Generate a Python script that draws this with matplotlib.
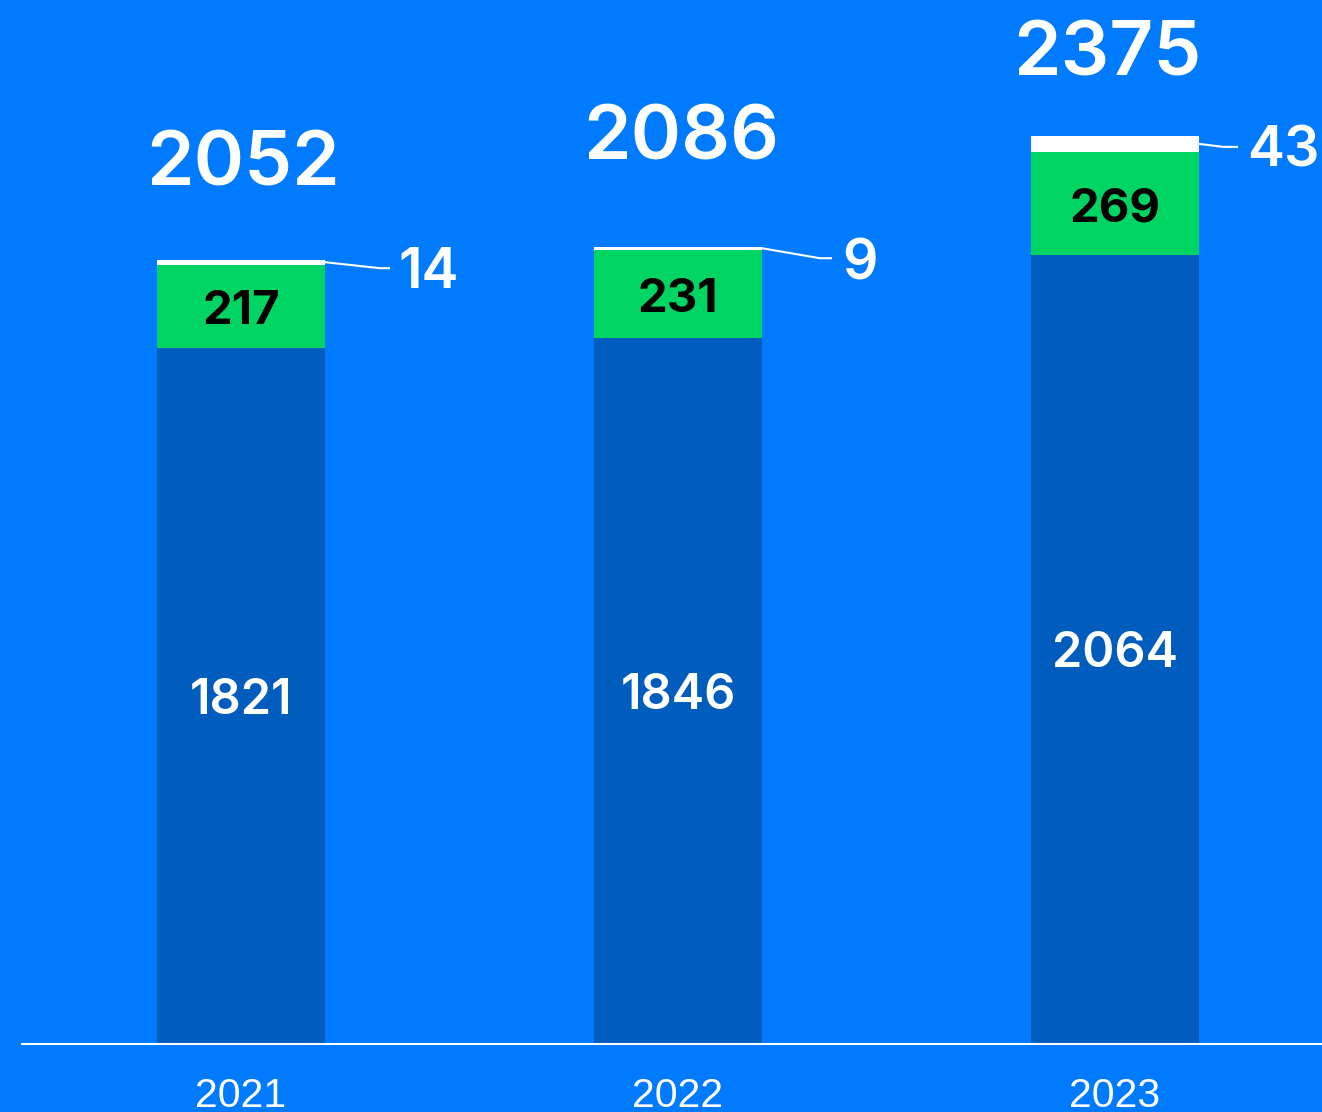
import matplotlib.pyplot as plt
from matplotlib.transforms import IdentityTransform

years = ['2021', '2022', '2023']
base_vals = [1821, 1846, 2064]
green_vals = [217, 231, 269]
top_vals = [14, 9, 43]
totals = [2052, 2086, 2375]

bg = '#007BFF'
dark = '#005DBE'
green = '#00D564'
white = '#FFFFFF'

# label placement (pixels, dpi 100)
total_offsets = [(2.5, 74.5), (3, 87), (-7.5, 61)]
leader_elbow = [(55, -6), (58, -10), (24, -3)]
leader_end = [(64, -6), (69, -10), (38, -3)]
side_text = [(73, -26), (80, -31), (48, -23)]

plt.rcParams['font.family'] = ['Inter', 'DejaVu Sans']

fig = plt.figure(figsize=(13.22, 11.12), dpi=100, facecolor=bg)
ax = fig.add_axes([22/1322, 68/1112, 1300/1322, 1044/1112])
ax.set_facecolor(bg)

x = list(range(len(years)))
w = 168/437
bottoms2 = base_vals
bottoms3 = [b + g for b, g in zip(base_vals, green_vals)]
ax.bar(x, base_vals, width=w, color=dark)
ax.bar(x, green_vals, width=w, bottom=bottoms2, color=green)
ax.bar(x, top_vals, width=w, bottom=bottoms3, color=white)

ax.set_xlim(-219/437, 1081/437)
ax.set_ylim(0, 1044/0.3823)

for s in ['top', 'right', 'left']:
    ax.spines[s].set_visible(False)
ax.spines['bottom'].set_color('white')
ax.spines['bottom'].set_linewidth(1.5)
ax.set_yticks([])
ax.set_xticks(x)
ax.set_xticklabels(years, fontfamily='Liberation Sans', fontsize=29.5, color='white')
ax.tick_params(axis='x', length=0, pad=24)

px = 100/72
for i in x:
    b, g, t, tot = base_vals[i], green_vals[i], top_vals[i], totals[i]
    # total on top
    ax.annotate(str(tot), xy=(i, tot), xytext=total_offsets[i], textcoords='offset pixels',
                ha='center', va='baseline', fontsize=55, fontweight='semibold', color='white')
    # inner labels
    ax.annotate(str(b), xy=(i, b/2), xytext=(0, -35*px*0.727/2), textcoords='offset pixels',
                ha='center', va='baseline', fontsize=35, fontweight='semibold', color='white')
    ax.annotate(str(g), xy=(i, b + g/2), xytext=(0, -34*px*0.727/2 - 0.5), textcoords='offset pixels',
                ha='center', va='baseline', fontsize=34, fontweight='bold', color='black')
    # side label with leader line
    ay = b + g + t/2
    ax.annotate(str(t), xy=(i + w/2, ay), xytext=side_text[i], textcoords='offset pixels',
                ha='left', va='baseline', fontsize=40, fontweight='semibold', color='white')
    p0 = ax.transData.transform((i + w/2, ay))
    xs = [p0[0], p0[0] + leader_elbow[i][0], p0[0] + leader_end[i][0]]
    ys = [p0[1], p0[1] + leader_elbow[i][1], p0[1] + leader_end[i][1]]
    ax.plot(xs, ys, color='white', lw=1.5, transform=IdentityTransform(), clip_on=False)

plt.savefig('out.png', dpi=100, facecolor=bg)
